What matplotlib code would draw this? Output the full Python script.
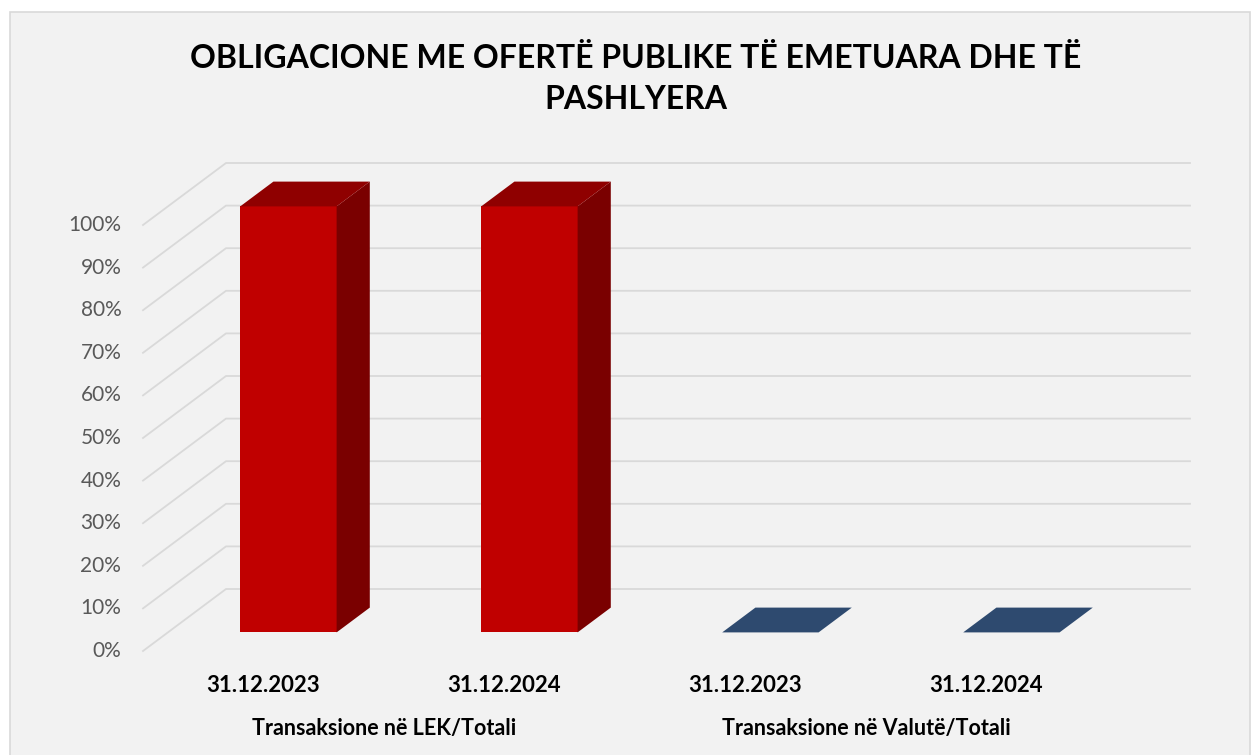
import matplotlib.pyplot as plt
from matplotlib.patches import Polygon, Rectangle

# data
dates = ["31.12.2023", "31.12.2024", "31.12.2023", "31.12.2024"]
groups = ["Transaksione në LEK/Totali", "Transaksione në Valutë/Totali"]
values = [100, 100, 0, 0]
ticks = [0, 10, 20, 30, 40, 50, 60, 70, 80, 90, 100]
title = "OBLIGACIONE ME OFERTË PUBLIKE TË EMETUARA DHE TË\nPASHLYERA"

front_cols = ["#C00000", "#C00000", "#2E4A6F", "#2E4A6F"]
side_cols = ["#7A0000", "#7A0000", "#1F3450", "#1F3450"]
top_cols = ["#8F0000", "#8F0000", "#2E4A6F", "#2E4A6F"]

plt.rcParams['font.family'] = ['Lato', 'DejaVu Sans']

W, H = 1254, 755
fig = plt.figure(figsize=(W / 100, H / 100), dpi=100, facecolor="white")
fig.patches.append(Rectangle((10 / W, -0.01), 1240 / W, (H - 12) / H + 0.01,
                             transform=fig.transFigure, facecolor="#F2F2F2",
                             edgecolor="#D9D9D9", lw=1.2, zorder=-10))

ax = fig.add_axes([0, 0, 1, 1])
ax.set_axis_off()
ax.patch.set_alpha(0)
# front plane: x category units (241 px each, origin at px 143), y in % (4.26 px each, 0 at px 651)
sx, sy = 241.0, 4.26
x0, y0 = 143.0, 651.0
ax.set_xlim(-x0 / sx, (W - x0) / sx)
ax.set_ylim((y0 - H) / sy, y0 / sy)

DX, DY = 83.0 / sx, 62.0 / sy   # full depth offset in data units
ncat = len(values)


def P(x, y, z):
    return (x + z * DX, y + z * DY)


# gridlines (diagonal on left side wall + horizontal on back wall)
for t in ticks:
    a = P(0, t, 0)
    b = P(0, t, 1)
    c = P(ncat, t, 1)
    ax.plot([a[0], b[0], c[0]], [a[1], b[1], c[1]], color="#D9D9D9", lw=1.3, zorder=1)
    ax.text(-0.09, t, f"{t}%", ha="right", va="center", fontsize=15, color="#595959")

bw, z1, z2 = 0.4, 0.3, 0.7
for i, v in enumerate(values):
    xl = i + 0.5 - bw / 2
    xr = i + 0.5 + bw / 2
    if v > 0:
        front = [P(xl, 0, z1), P(xr, 0, z1), P(xr, v, z1), P(xl, v, z1)]
        side = [P(xr, 0, z1), P(xr, 0, z2), P(xr, v, z2), P(xr, v, z1)]
        ax.add_patch(Polygon(front, closed=True, facecolor=front_cols[i], edgecolor="none", zorder=3))
        ax.add_patch(Polygon(side, closed=True, facecolor=side_cols[i], edgecolor="none", zorder=3))
    top = [P(xl, v, z1), P(xr, v, z1), P(xr, v, z2), P(xl, v, z2)]
    ax.add_patch(Polygon(top, closed=True, facecolor=top_cols[i], edgecolor="none", zorder=4))
    ax.text(i + 0.5, (y0 - 685) / sy, dates[i], ha="center", va="center",
            fontsize=16, fontweight="bold", color="black")

for g, name in enumerate(groups):
    ax.text(2 * g + 1, (y0 - 728) / sy, name, ha="center", va="center",
            fontsize=15.5, fontweight="bold", color="black")

fig.text(636 / W, 1 - 79 / H, title, ha="center", va="center", fontsize=23,
         fontweight="bold", color="black", linespacing=1.5)

fig.savefig("out.png", dpi=100, facecolor=fig.get_facecolor())
